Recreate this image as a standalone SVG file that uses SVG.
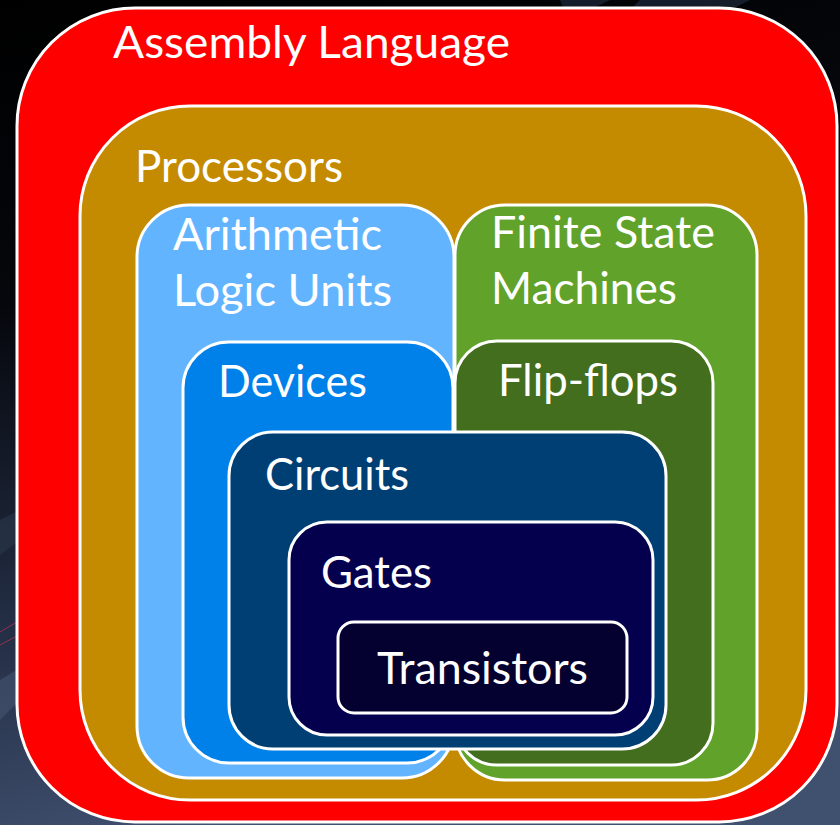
<svg xmlns="http://www.w3.org/2000/svg" width="840" height="825" viewBox="0 0 840 825">
  <defs>
    <linearGradient id="bg" x1="0" y1="0" x2="0.25" y2="1">
      <stop offset="0" stop-color="#000000"/>
      <stop offset="0.35" stop-color="#05070c"/>
      <stop offset="0.7" stop-color="#222c42"/>
      <stop offset="1" stop-color="#40506f"/>
    </linearGradient>
    <style>
      .box { stroke: #ffffff; stroke-width: 3; }
      .lbl { font-family: Lato, "Open Sans", "DejaVu Sans", sans-serif; font-size: 44px; fill: #ffffff; }
    </style>
  </defs>

  <g id="background">
    <rect x="0" y="0" width="840" height="825" fill="url(#bg)"/>
    <polygon points="560,0 610,0 585,12 565,12" fill="#1c2433" opacity="0.8"/>
    <polygon points="640,0 750,0 730,10 630,10" fill="#1c2433" opacity="0.8"/>
    <polygon points="0,520 20,510 20,540 0,555" fill="#2a3448" opacity="0.7"/>
    <polygon points="0,680 20,668 20,700 0,720" fill="#4a5a78" opacity="0.5"/>
    <line x1="0" y1="632" x2="17" y2="622" stroke="#b0305a" stroke-width="1" opacity="0.8"/>
    <line x1="0" y1="645" x2="17" y2="636" stroke="#b0305a" stroke-width="1" opacity="0.8"/>
  </g>

  <g id="assembly-language">
    <rect class="box" x="17" y="8" width="820" height="814" rx="118" ry="118" fill="#ff0000"/>
    <text class="lbl" x="113" y="58" textLength="397" lengthAdjust="spacingAndGlyphs">Assembly Language</text>
  </g>

  <g id="processors">
    <rect class="box" x="80" y="106" width="726" height="694" rx="110" ry="110" fill="#c48b00"/>
    <text class="lbl" x="135" y="182" textLength="208" lengthAdjust="spacingAndGlyphs">Processors</text>
  </g>

  <g id="alu">
    <rect class="box" x="137" y="205" width="317" height="573" rx="52" ry="52" fill="#63b4ff"/>
    <text class="lbl" x="173" y="250" textLength="209" lengthAdjust="spacingAndGlyphs">Arithmetic</text>
    <text class="lbl" x="173" y="306" textLength="219" lengthAdjust="spacingAndGlyphs">Logic Units</text>
  </g>

  <g id="fsm">
    <rect class="box" x="455" y="205" width="302" height="575" rx="50" ry="50" fill="#60a22a"/>
    <text class="lbl" x="491" y="248" textLength="224" lengthAdjust="spacingAndGlyphs">Finite State</text>
    <text class="lbl" x="491" y="304" textLength="186" lengthAdjust="spacingAndGlyphs">Machines</text>
  </g>

  <g id="devices">
    <rect class="box" x="183" y="342" width="270" height="421" rx="46" ry="46" fill="#0080e9"/>
    <text class="lbl" x="218" y="397" textLength="149" lengthAdjust="spacingAndGlyphs">Devices</text>
  </g>

  <g id="flip-flops">
    <rect class="box" x="455" y="341" width="258" height="424" rx="42" ry="42" fill="#426e1d"/>
    <text class="lbl" x="498" y="396" textLength="180" lengthAdjust="spacingAndGlyphs">Flip-flops</text>
  </g>

  <g id="circuits">
    <rect class="box" x="229" y="432" width="437" height="317" rx="44" ry="44" fill="#003f74"/>
    <text class="lbl" x="265" y="490" textLength="144" lengthAdjust="spacingAndGlyphs">Circuits</text>
  </g>

  <g id="gates">
    <rect class="box" x="289" y="522" width="364" height="213" rx="38" ry="38" fill="#05004e"/>
    <text class="lbl" x="321" y="588" textLength="111" lengthAdjust="spacingAndGlyphs">Gates</text>
  </g>

  <g id="transistors">
    <rect class="box" x="338" y="622" width="289" height="91" rx="16" ry="16" fill="#040030"/>
    <text class="lbl" x="377" y="684" textLength="211" lengthAdjust="spacingAndGlyphs">Transistors</text>
  </g>

  <g id="connectors"/>
</svg>
